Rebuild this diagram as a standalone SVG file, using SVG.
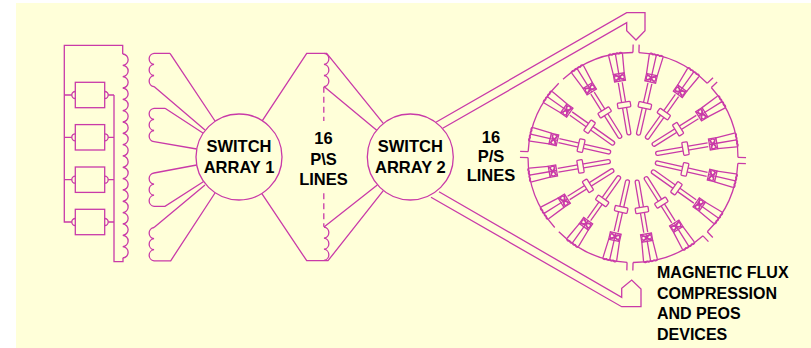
<svg xmlns="http://www.w3.org/2000/svg" width="811" height="348" viewBox="0 0 811 348">
<style>
.l{fill:none;stroke:#C93AA8;stroke-width:1.3}
.f{fill:#FFFFD9;stroke:#C93AA8;stroke-width:1.3}
.t{font-family:"Liberation Sans",Arial,sans-serif;font-weight:bold;font-size:16.5px;fill:#000;text-anchor:middle}
.m{font-family:"Liberation Sans",Arial,sans-serif;font-weight:bold;font-size:16px;fill:#000}
</style>
<defs>
<path id="seg" class="l" d="M2.93 -104.96A105 105 0 0 1 72.1 -76.3"/>
<path id="tick" class="l" d="M-3 -105V-113M3 -105V-113"/>
<g id="spoke">
<path class="l" d="M-2 -76V-25A2 2 0 0 0 2 -25V-76"/>
<rect class="f" x="-6.5" y="-56" width="13" height="5.5" rx="1"/>
<rect class="l" x="-5.5" y="-85" width="11" height="7.5"/>
<path class="l" d="M-5.5 -85L5.5 -77.5M5.5 -85L-5.5 -77.5M0 -85V-77.5"/>
<circle class="l" cx="-2.7" cy="-81.2" r="2.2"/>
<circle class="l" cx="2.7" cy="-81.2" r="2.2"/>
<path class="l" d="M-5.5 -85L-7 -104M0 -85V-105M5.5 -85L7 -104"/>
<path class="l" d="M-7 -104a1.7 1.7 0 0 1 3.5 0a1.7 1.7 0 0 1 3.5 0a1.7 1.7 0 0 1 3.5 0a1.7 1.7 0 0 1 3.5 0"/>
</g>
<path id="coil3" class="l" d="M0 0a5.6 5.6 0 0 0 0 11.1a5.6 5.6 0 0 0 0 11.1a5.6 5.6 0 0 0 0 11.1"/>
<path id="coil3r" class="l" d="M0 0a5.6 5.6 0 0 1 0 11.1a5.6 5.6 0 0 1 0 11.1a5.6 5.6 0 0 1 0 11.1"/>
<g id="cell">
<rect class="l" x="75.3" y="-12.7" width="29.4" height="25.4"/>
<path class="l" d="M75.3 -3.5a3.5 3.5 0 0 0 0 7M104.7 -3.5a3.5 3.5 0 0 1 0 7"/>
</g>
</defs>
<rect x="0" y="0" width="811" height="348" fill="#FFFFFF"/>
<rect x="16" y="3" width="795" height="345" fill="#FFFFD9"/>

<g id="connectors">
<path class="l" d="M64.3 95H71.8M64.3 137.3H71.8M64.3 179.7H71.8M108.2 95H114M108.2 137.3H114M108.2 179.7H114M108.2 222H114"/>
<path class="l" d="M122.7 54V45.3H64.3V222H71.8"/>
<path class="l" d="M114 95V261.7H123V258"/>
<path class="l" d="M170 53.3H154M170 53.3L215 121M154 86.6L205 130"/>
<path class="l" d="M165 108.3H154M165 108.3L203.3 133.3M154 141.6L196.7 149"/>
<path class="l" d="M196.7 165L154 173M154 206.3H165L203.3 181.7"/>
<path class="l" d="M205 185L154 227.5M154 260.8H170.7L215 193"/>
<path class="l" d="M261.7 121.7L306.7 53.3H326.7L383.3 123.3M324 86.6L377.3 130.7M324 53.3H326.7"/>
<path class="l" d="M261.7 193.3L306.7 260.7H328L383.3 190.7M324 227L377.3 185"/>
<path class="l" d="M323.8 86.7V121M323.8 193.3V226.7" stroke-dasharray="6 4"/>
<path class="l" d="M435 122.7L626.7 12.7H645V30.7L636 40L626.7 30.7V22.7L442.7 128.3"/>
<path class="l" d="M431 197.3L621.7 306.7H641V289L631.7 280L621.7 288.3V297.3L439 191.7"/>
</g>

<g id="transformer">
<path class="l" d="M122.7 54a5.67 5.67 0 0 1 0 11.33a5.67 5.67 0 0 1 0 11.33a5.67 5.67 0 0 1 0 11.33a5.67 5.67 0 0 1 0 11.33a5.67 5.67 0 0 1 0 11.33a5.67 5.67 0 0 1 0 11.33a5.67 5.67 0 0 1 0 11.33a5.67 5.67 0 0 1 0 11.33a5.67 5.67 0 0 1 0 11.33a5.67 5.67 0 0 1 0 11.33a5.67 5.67 0 0 1 0 11.33a5.67 5.67 0 0 1 0 11.33a5.67 5.67 0 0 1 0 11.33a5.67 5.67 0 0 1 0 11.33a5.67 5.67 0 0 1 0 11.33a5.67 5.67 0 0 1 0 11.33a5.67 5.67 0 0 1 0 11.33a5.67 5.67 0 0 1 0 11.33"/>
</g>
<g id="cell-1"><use href="#cell" transform="translate(0 95)"/></g>
<g id="cell-2"><use href="#cell" transform="translate(0 137.3)"/></g>
<g id="cell-3"><use href="#cell" transform="translate(0 179.7)"/></g>
<g id="cell-4"><use href="#cell" transform="translate(0 222)"/></g>

<g id="coil-1"><use href="#coil3" transform="translate(154 53.3)"/></g>
<g id="coil-2"><use href="#coil3" transform="translate(154 108.3)"/></g>
<g id="coil-3"><use href="#coil3" transform="translate(154 173)"/></g>
<g id="coil-4"><use href="#coil3" transform="translate(154 227.5)"/></g>
<g id="coil-5"><use href="#coil3r" transform="translate(324 53.3)"/></g>
<g id="coil-6"><use href="#coil3r" transform="translate(324 227)"/></g>

<g id="switch-array-1">
<circle class="f" cx="239" cy="157" r="43"/>
<text class="t" x="239" y="152">SWITCH</text>
<text class="t" x="239" y="172.5">ARRAY 1</text>
</g>
<g id="switch-array-2">
<circle class="f" cx="410.3" cy="157" r="43"/>
<text class="t" x="410.3" y="152">SWITCH</text>
<text class="t" x="410.3" y="172.5">ARRAY 2</text>
</g>
<g id="label-ps-1">
<text class="t" x="323.5" y="144">16</text>
<text class="t" x="323.5" y="165">P\S</text>
<text class="t" x="323.5" y="184.5">LINES</text>
</g>
<g id="label-ps-2">
<text class="t" x="491" y="143">16</text>
<text class="t" x="491" y="162">P/S</text>
<text class="t" x="491" y="181">LINES</text>
</g>

<g id="flux-compression-disc" transform="translate(633 157.5) rotate(1.6)">
<use href="#seg"/><use href="#seg" transform="rotate(45)"/><use href="#seg" transform="rotate(90)"/><use href="#seg" transform="rotate(135)"/>
<use href="#seg" transform="rotate(180)"/><use href="#seg" transform="rotate(225)"/><use href="#seg" transform="rotate(270)"/><use href="#seg" transform="rotate(315)"/>
<use href="#tick"/><use href="#tick" transform="rotate(45)"/><use href="#tick" transform="rotate(90)"/><use href="#tick" transform="rotate(135)"/><use href="#tick" transform="rotate(180)"/><use href="#tick" transform="rotate(270)"/>
<use href="#spoke" transform="rotate(11.25)"/><use href="#spoke" transform="rotate(33.75)"/><use href="#spoke" transform="rotate(56.25)"/><use href="#spoke" transform="rotate(78.75)"/>
<use href="#spoke" transform="rotate(101.25)"/><use href="#spoke" transform="rotate(123.75)"/><use href="#spoke" transform="rotate(146.25)"/><use href="#spoke" transform="rotate(168.75)"/>
<use href="#spoke" transform="rotate(191.25)"/><use href="#spoke" transform="rotate(213.75)"/><use href="#spoke" transform="rotate(236.25)"/><use href="#spoke" transform="rotate(258.75)"/>
<use href="#spoke" transform="rotate(281.25)"/><use href="#spoke" transform="rotate(303.75)"/><use href="#spoke" transform="rotate(326.25)"/><use href="#spoke" transform="rotate(348.75)"/>
</g>

<g id="label-devices">
<text class="m" x="657" y="278">MAGNETIC FLUX</text>
<text class="m" x="657" y="299">COMPRESSION</text>
<text class="m" x="657" y="319">AND PEOS</text>
<text class="m" x="657" y="340">DEVICES</text>
</g>
</svg>
